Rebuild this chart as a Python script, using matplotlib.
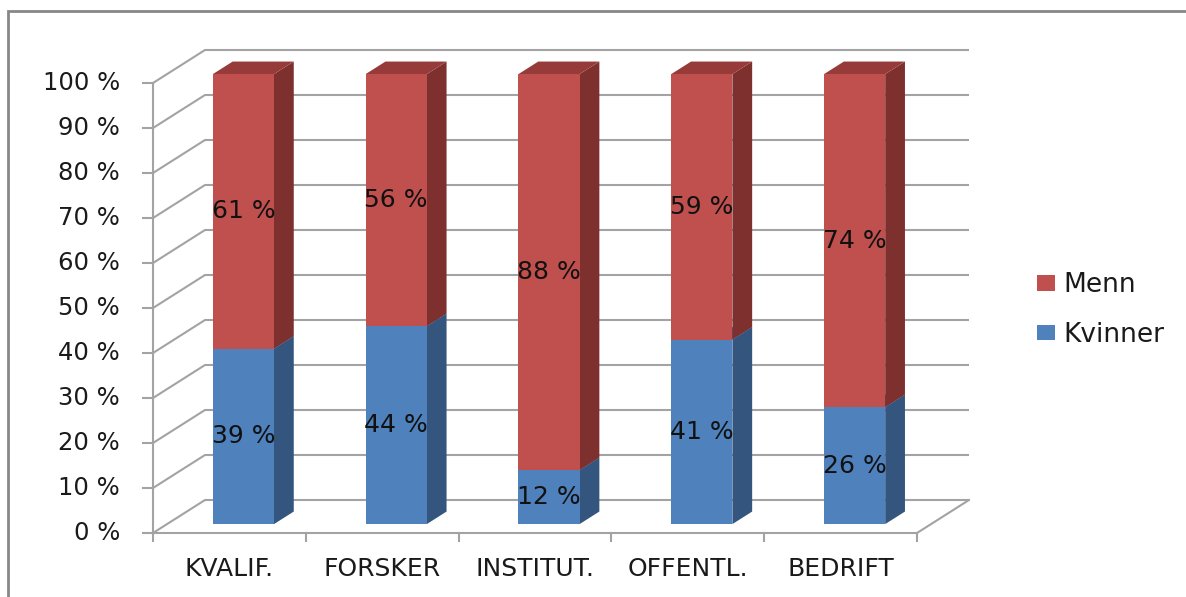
import matplotlib
matplotlib.use("Agg")
import matplotlib.pyplot as plt
from matplotlib.patches import Polygon, Rectangle, Patch

# ---- data ----
categories = ["KVALIF.", "FORSKER", "INSTITUT.", "OFFENTL.", "BEDRIFT"]
kvinner = [39, 44, 12, 41, 26]
menn = [61, 56, 88, 59, 74]
yticks = [0, 10, 20, 30, 40, 50, 60, 70, 80, 90, 100]
series_names = ["Kvinner", "Menn"]

# ---- styling ----
W, H = 1186, 597
PX_CAT = 152.8     # pixels per category
PX_PCT = 4.5       # pixels per percent
X0, Y0 = 153, 533  # pixel position of front-left origin (from top)
DX = 52 / PX_CAT   # depth offset in category units
DY = 33 / PX_PCT   # depth offset in percent units
Z1, Z2 = 0.27, 0.65  # bar depth range
BAR_L, BAR_W = 0.30, 0.40

front = {"Kvinner": "#4F81BD", "Menn": "#C0504D"}
side = {"Kvinner": "#33557E", "Menn": "#7E302E"}
top = {"Kvinner": "#3E6797", "Menn": "#963B39"}
grid_c = "#A3A3A3"
txt_c = "#1A1A1A"
lw = 1.5

fig = plt.figure(figsize=(W / 100, H / 100), dpi=100)
ax = fig.add_axes([0, 0, 1, 1])
ax.set_xlim(-X0 / PX_CAT, (W - X0) / PX_CAT)
ax.set_ylim(-(H - Y0) / PX_PCT, Y0 / PX_PCT)
ax.axis("off")

# outer frame
fig.patches.append(Rectangle((8 / W, -0.1), 1.2, (H - 11) / H + 0.1, transform=fig.transFigure,
                             fill=False, edgecolor="#878787", linewidth=2))


def proj(x, y, z):
    return (x + z * DX, y + z * DY)


n = len(categories)
# gridlines (left wall diagonal + back wall horizontal)
for v in yticks:
    p0 = proj(0, v, 0)
    p1 = proj(0, v, 1)
    p2 = proj(n, v, 1)
    ax.plot([p0[0], p1[0], p2[0]], [p0[1], p1[1], p2[1]], color=grid_c, lw=lw,
            solid_capstyle="butt", zorder=1)
# floor right diagonal
p0, p1 = proj(n, 0, 0), proj(n, 0, 1)
ax.plot([p0[0], p1[0]], [p0[1], p1[1]], color=grid_c, lw=lw, zorder=1)

# front axes
ax.plot([0, 0], [0, 100], color=grid_c, lw=lw, zorder=1)
ax.plot([0, n], [0, 0], color=grid_c, lw=lw, zorder=1)
for v in yticks:
    ax.plot([-10 / PX_CAT, 0], [v, v], color=grid_c, lw=lw, zorder=1)
    ax.text(-33 / PX_CAT, v, f"{v} %", ha="right", va="center", fontsize=17.5, color=txt_c)
for i in range(n + 1):
    ax.plot([i, i], [0, -8 / PX_PCT], color=grid_c, lw=lw, zorder=1)
for i, c in enumerate(categories):
    ax.text(i + 0.5, -36 / PX_PCT, c, ha="center", va="center", fontsize=18, color=txt_c)

# bars
for i in range(n):
    base = 0
    for name, vals in (("Kvinner", kvinner), ("Menn", menn)):
        v = vals[i]
        xl, xr = i + BAR_L, i + BAR_L + BAR_W
        y0, y1 = base, base + v
        fr = [proj(xl, y0, Z1), proj(xr, y0, Z1), proj(xr, y1, Z1), proj(xl, y1, Z1)]
        sd = [proj(xr, y0, Z1), proj(xr, y0, Z2), proj(xr, y1, Z2), proj(xr, y1, Z1)]
        tp = [proj(xl, y1, Z1), proj(xr, y1, Z1), proj(xr, y1, Z2), proj(xl, y1, Z2)]
        for poly, col in ((sd, side[name]), (tp, top[name]), (fr, front[name])):
            ax.add_patch(Polygon(poly, closed=True, facecolor=col, edgecolor="none", zorder=2))
        cx, cy = proj(i + 0.5, (y0 + y1) / 2, Z1)
        ax.text(cx, cy, f"{v} %", ha="center", va="center", fontsize=18, color="#111111", zorder=3)
        base = y1

# legend
handles = [Patch(facecolor=front["Menn"], label="Menn"),
           Patch(facecolor=front["Kvinner"], label="Kvinner")]
fig.legend(handles=handles, loc="center left", bbox_to_anchor=(1037 / W, 1 - 310 / H),
           frameon=False, fontsize=19, handlelength=0.7, handleheight=0.55,
           handletextpad=0.3, labelspacing=0.9, borderaxespad=0, borderpad=0,
           labelcolor=txt_c)

fig.savefig("out.png", dpi=100)
